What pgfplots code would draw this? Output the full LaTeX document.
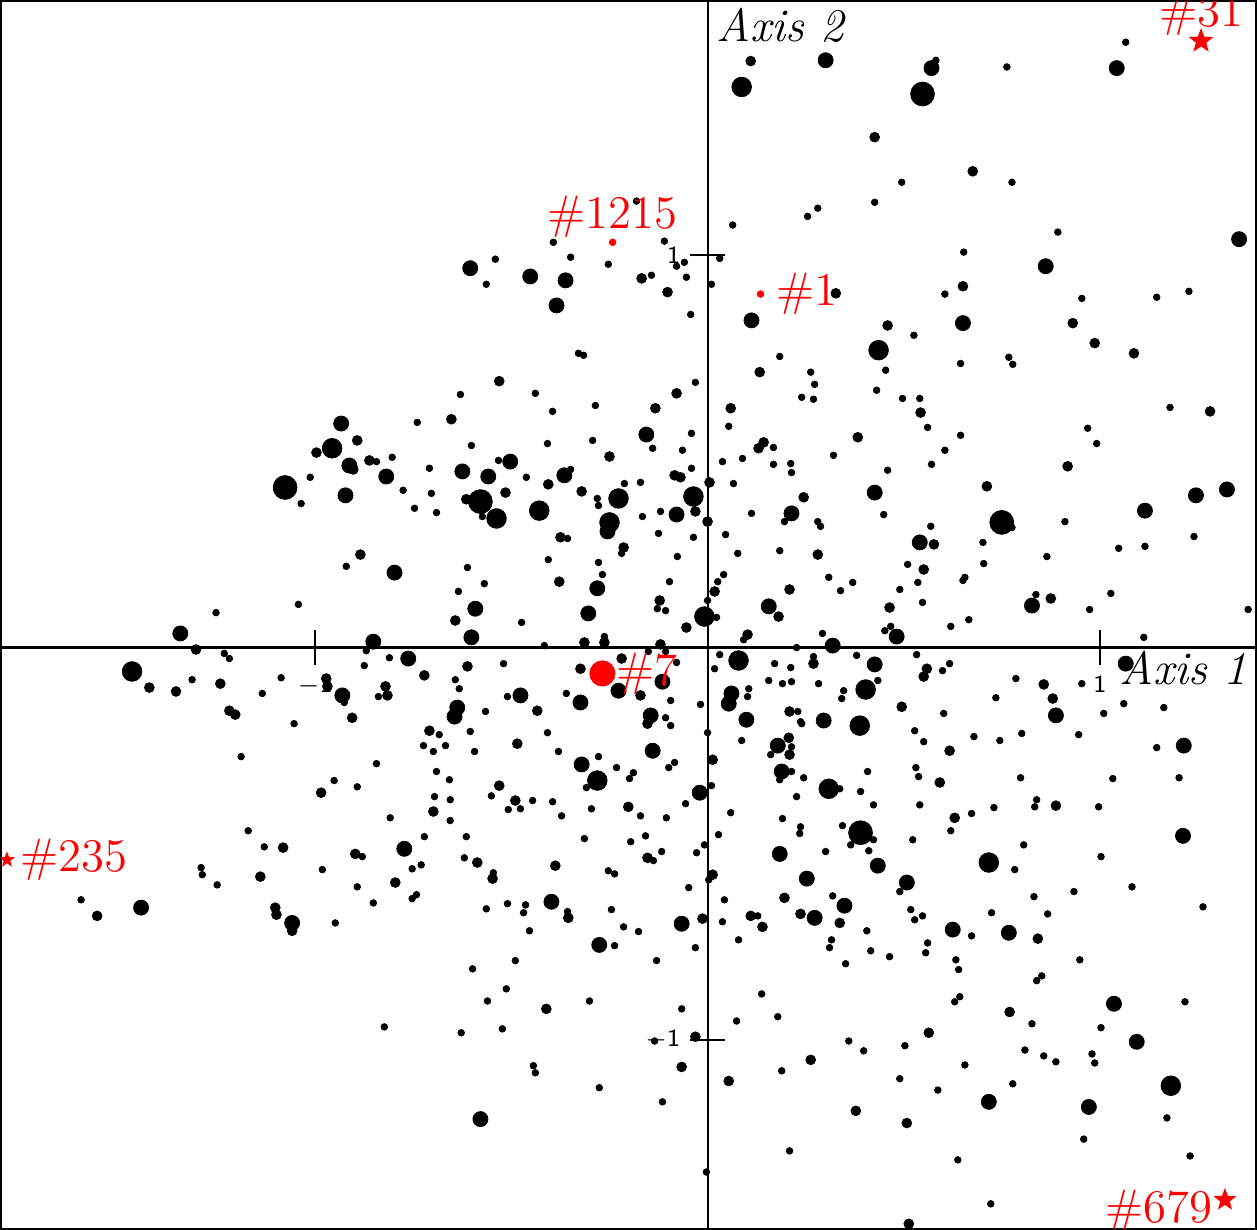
\documentclass[border=0pt]{standalone}
\usepackage{pgfplots}
\pgfplotsset{compat=1.18}
\pgfdeclareplotmark{fstar}{%
  \pgfpathmoveto{\pgfpointpolar{90}{\pgfplotmarksize}}%
  \pgfpathlineto{\pgfpointpolar{126}{0.42\pgfplotmarksize}}%
  \pgfpathlineto{\pgfpointpolar{162}{\pgfplotmarksize}}%
  \pgfpathlineto{\pgfpointpolar{198}{0.42\pgfplotmarksize}}%
  \pgfpathlineto{\pgfpointpolar{234}{\pgfplotmarksize}}%
  \pgfpathlineto{\pgfpointpolar{270}{0.42\pgfplotmarksize}}%
  \pgfpathlineto{\pgfpointpolar{306}{\pgfplotmarksize}}%
  \pgfpathlineto{\pgfpointpolar{342}{0.42\pgfplotmarksize}}%
  \pgfpathlineto{\pgfpointpolar{18}{\pgfplotmarksize}}%
  \pgfpathlineto{\pgfpointpolar{54}{0.42\pgfplotmarksize}}%
  \pgfpathclose
  \pgfusepathqfill
}
\newcommand{\lab}{\fontsize{13.3}{15}\selectfont}
\newcommand{\tck}{\sffamily\fontsize{7}{8}\selectfont}
\begin{document}
\begin{tikzpicture}
\begin{axis}[
  scale only axis, width=12.54cm, height=12.27cm,
  xmin=-1.801, xmax=1.398, ymin=-1.482, ymax=1.648,
  axis line style={line width=0.6pt},
  xtick=\empty, ytick=\empty,
  clip marker paths=true,
  dots/.style={only marks, mark=*, black, mark options={line width=0.2pt}},
]
\draw[line width=0.6pt] (axis cs:0,-1.482) -- (axis cs:0,1.648);
\draw[line width=0.6pt] (axis cs:-1.801,0) -- (axis cs:1.398,0);
\draw[line width=0.6pt] ([yshift=-5pt]axis cs:1,0) -- ([yshift=5pt]axis cs:1,0);
\draw[line width=0.6pt] ([yshift=-5pt]axis cs:-1,0) -- ([yshift=5pt]axis cs:-1,0);
\draw[line width=0.6pt] ([xshift=-5pt]axis cs:0,1) -- ([xshift=5pt]axis cs:0,1);
\draw[line width=0.6pt] ([xshift=-5pt]axis cs:0,-1) -- ([xshift=5pt]axis cs:0,-1);
\node[anchor=north, inner sep=0pt, yshift=-7.7pt, font=\tck] at (axis cs:1,0) {1};
\node[anchor=north, inner sep=0pt, yshift=-7.7pt, font=\tck] at (axis cs:-1,0) {$-$1};
\node[anchor=east, inner sep=0pt, xshift=-7.6pt, font=\tck] at (axis cs:0,1) {1};
\node[anchor=east, inner sep=0pt, xshift=-7.6pt, font=\tck] at (axis cs:0,-1) {$-$1};
\node[anchor=base west, inner sep=0pt, font=\lab\itshape] at (axis cs:0.020,1.546) {Axis 2};
\node[anchor=base east, inner sep=0pt, font=\lab\itshape] at (axis cs:1.378,-0.094) {Axis 1};

% small dots
\addplot[dots, mark size=0.95pt] table {
x y
-0.393 1.033
-0.541 0.990
-0.564 0.926
-0.349 0.995
-0.253 0.977
-0.329 0.750
-0.316 0.745
-0.630 0.645
-0.439 0.648
-0.286 0.617
-0.395 0.602
0.582 1.497
0.495 1.186
0.426 1.135
0.255 1.099
0.281 1.120
0.064 1.077
-0.181 1.138
-0.110 1.036
-0.079 0.972
-0.059 0.982
-0.054 0.944
-0.143 0.949
-0.043 0.849
0.031 0.992
0.010 0.926
0.526 0.796
0.605 0.901
0.184 0.742
0.263 0.702
0.273 0.671
0.240 0.638
0.270 0.633
0.454 0.707
0.431 0.656
0.497 0.635
0.541 0.635
-0.031 0.676
1.066 1.543
0.763 1.480
0.776 1.186
0.893 1.059
0.653 1.008
0.954 0.890
1.145 0.893
1.227 0.908
0.645 0.724
0.768 0.740
0.778 0.722
1.179 0.612
-1.013 0.434
-1.036 0.367
-1.043 0.110
-1.253 0.089
-1.232 -0.015
-1.219 -0.028
-1.314 -0.082
-1.087 -0.077
-1.135 -0.117
-1.054 -0.194
-1.189 -0.278
-0.740 0.574
-0.844 0.474
-0.804 0.485
-0.776 0.401
-0.709 0.457
-0.704 0.393
-0.747 0.355
-0.691 0.344
-0.602 0.515
-0.574 0.334
-0.533 0.477
-0.462 0.434
-0.408 0.520
-0.349 0.454
-0.293 0.528
-0.212 0.418
-0.281 0.380
-0.278 0.362
-0.219 0.240
-0.357 0.278
-0.406 0.224
-0.278 0.217
-0.268 0.186
-0.474 0.064
-0.921 0.207
-0.612 0.204
-0.569 0.163
-0.635 0.143
-0.870 -0.008
-0.875 -0.046
-0.811 -0.026
-0.520 -0.041
-0.416 0.005
-0.263 0.028
-0.926 -0.140
-0.839 -0.125
-0.643 -0.082
-0.633 -0.105
-0.510 -0.125
-0.360 -0.117
-0.566 -0.163
-0.684 -0.222
-0.724 -0.250
-0.699 -0.265
-0.668 -0.250
-0.605 -0.214
-0.594 -0.265
-0.408 -0.217
-0.380 -0.265
-0.278 -0.278
-0.232 -0.306
-0.309 -0.357
-0.844 -0.296
-0.952 -0.339
-0.893 -0.355
-0.691 -0.316
-0.658 -0.337
-0.696 -0.380
-0.656 -0.388
-0.551 -0.378
-0.508 -0.413
-0.477 -0.411
-0.446 -0.390
-0.395 -0.393
-0.372 -0.429
-0.296 -0.411
-0.809 -0.434
-0.656 -0.441
-0.199 -0.334
-0.189 -0.319
0.054 0.564
0.561 0.561
-0.041 0.546
-0.140 0.508
-0.064 0.503
0.168 0.510
0.089 0.482
0.038 0.474
0.168 0.467
0.212 0.469
0.214 0.446
0.321 0.490
0.459 0.452
0.571 0.467
0.605 0.503
-0.041 0.457
-0.171 0.421
0.066 0.418
-0.120 0.347
-0.166 0.334
0.112 0.342
0.196 0.321
0.449 0.339
0.281 0.321
0.288 0.309
-0.125 0.291
-0.036 0.281
0.046 0.288
0.077 0.240
-0.077 0.232
0.184 0.247
0.569 0.309
0.510 0.212
0.536 0.166
0.490 0.148
0.548 0.115
-0.097 0.168
0.041 0.186
0.026 0.168
0.309 0.179
0.339 0.145
0.370 0.166
-0.128 0.099
-0.107 0.094
0.000 0.120
0.023 0.077
0.092 0.020
0.293 0.036
0.452 0.043
0.467 0.054
0.227 0.000
-0.107 -0.010
-0.151 -0.010
-0.079 -0.038
0.031 -0.018
0.018 -0.054
0.171 -0.041
0.212 -0.051
0.270 -0.023
0.380 -0.020
0.533 -0.018
0.434 -0.084
0.599 -0.059
0.156 -0.084
0.191 -0.092
0.214 -0.087
0.283 -0.092
-0.094 -0.135
0.105 -0.105
0.102 -0.125
-0.018 -0.145
0.347 -0.110
0.342 -0.130
0.602 -0.168
-0.107 -0.179
-0.094 -0.199
0.230 -0.163
0.237 -0.189
0.240 -0.194
0.000 -0.217
0.087 -0.237
0.214 -0.253
0.161 -0.273
0.528 -0.212
0.551 -0.240
-0.084 -0.293
-0.099 -0.306
0.214 -0.316
0.184 -0.337
0.245 -0.332
0.408 -0.316
0.531 -0.306
0.538 -0.329
0.337 -0.360
0.010 -0.352
-0.056 -0.398
0.390 -0.367
0.227 -0.380
0.423 -0.401
0.541 -0.401
-0.171 -0.429
-0.105 -0.434
0.059 -0.421
0.191 -0.436
0.969 0.559
0.992 0.520
0.645 0.541
0.776 0.306
0.911 0.321
0.702 0.268
1.240 0.283
1.048 0.253
1.115 0.258
0.865 0.232
0.704 0.214
0.656 0.179
0.651 0.171
0.837 0.135
1.028 0.138
0.974 0.097
1.378 0.097
0.620 0.054
0.666 0.071
1.112 0.026
0.617 -0.041
0.786 -0.079
0.954 -0.092
0.735 -0.128
1.010 -0.168
1.061 -0.143
1.163 -0.153
0.679 -0.227
0.745 -0.237
0.801 -0.219
0.946 -0.222
1.145 -0.255
0.798 -0.332
1.033 -0.334
1.202 -0.332
0.839 -0.388
0.834 -0.406
0.730 -0.408
0.673 -0.423
0.997 -0.406
-1.171 -0.467
-1.130 -0.508
-1.291 -0.561
-1.288 -0.579
-1.250 -0.605
-1.597 -0.643
-0.722 -0.482
-0.615 -0.482
-0.880 -0.533
-0.982 -0.566
-0.753 -0.564
-0.730 -0.554
-0.620 -0.536
-0.546 -0.574
-0.893 -0.610
-0.852 -0.651
-0.753 -0.640
-0.742 -0.630
-0.949 -0.702
-0.314 -0.487
-0.196 -0.495
-0.253 -0.569
-0.237 -0.577
-0.564 -0.666
-0.510 -0.653
-0.464 -0.656
-0.469 -0.676
-0.357 -0.673
-0.454 -0.722
-0.245 -0.668
-0.214 -0.712
-0.237 -0.760
-0.490 -0.798
-0.599 -0.819
-0.513 -0.870
-0.561 -0.901
-0.301 -0.901
-0.824 -0.967
-0.628 -0.982
-0.523 -0.972
-0.444 -1.066
-0.439 -1.084
-0.276 -1.122
-0.158 -0.480
-0.138 -0.543
-0.117 -0.520
-0.028 -0.523
-0.008 -0.503
0.028 -0.477
0.003 -0.592
-0.048 -0.612
0.237 -0.457
0.235 -0.474
0.344 -0.454
0.423 -0.490
0.365 -0.503
0.523 -0.490
0.301 -0.520
0.411 -0.518
0.490 -0.622
0.043 -0.643
0.319 -0.633
0.518 -0.668
0.528 -0.694
0.548 -0.684
0.038 -0.699
0.128 -0.684
-0.176 -0.724
0.079 -0.745
-0.031 -0.765
-0.130 -0.798
0.406 -0.722
0.316 -0.745
0.311 -0.765
0.416 -0.773
0.352 -0.806
0.464 -0.788
0.561 -0.753
0.556 -0.778
0.138 -0.883
-0.066 -0.921
0.074 -0.952
0.179 -0.941
-0.135 -1.003
0.360 -1.003
0.398 -1.028
0.503 -1.015
0.189 -1.079
0.490 -1.099
0.587 -1.128
-0.115 -1.158
0.209 -1.283
-0.003 -1.337
0.620 -0.467
0.806 -0.503
1.003 -0.533
0.783 -0.566
1.082 -0.610
0.934 -0.622
0.832 -0.635
1.263 -0.661
0.724 -0.676
0.867 -0.679
0.673 -0.735
0.633 -0.796
0.640 -0.821
0.949 -0.796
0.852 -0.837
0.839 -0.849
0.643 -0.890
0.630 -0.903
1.217 -0.903
0.827 -0.959
1.003 -0.969
0.809 -1.026
0.857 -1.041
0.888 -1.056
0.980 -1.036
0.987 -1.059
0.656 -1.064
0.778 -1.112
1.171 -1.199
0.959 -1.253
0.638 -1.306
1.230 -1.296
0.722 -1.418
};

% medium dots
\addplot[dots, mark size=1.4pt] table {
x y
-0.531 0.679
0.110 1.495
0.426 1.301
-0.168 0.941
-0.102 0.906
0.327 0.903
0.459 0.821
0.133 0.702
0.059 0.610
-0.079 0.648
-0.133 0.610
0.676 1.214
0.651 0.921
0.931 0.827
0.987 0.776
1.087 0.750
1.281 0.602
-0.997 0.497
-1.304 -0.005
-1.423 -0.102
-1.355 -0.112
-1.242 -0.092
-1.219 -0.161
-1.204 -0.171
-0.653 0.582
-0.893 0.528
-0.862 0.477
-0.615 0.378
-0.515 0.395
-0.406 0.416
-0.321 0.398
-0.250 0.487
-0.214 0.255
-0.375 0.281
-0.378 0.168
-0.885 0.237
-0.643 0.069
-0.263 0.013
-0.314 0.013
-0.722 -0.071
-0.612 -0.048
-0.219 -0.028
-0.324 -0.054
-0.972 -0.079
-0.969 -0.099
-0.906 -0.179
-0.821 -0.099
-0.816 -0.122
-0.434 -0.161
-0.709 -0.212
-0.485 -0.245
-0.985 -0.370
-0.699 -0.418
-0.531 -0.352
-0.490 -0.390
-0.202 -0.406
0.543 0.599
0.383 0.536
0.143 0.523
0.130 0.508
-0.084 0.439
-0.069 0.434
0.005 0.421
-0.031 0.347
0.000 0.321
0.245 0.383
0.281 0.237
0.577 0.263
0.551 0.199
0.018 0.143
0.209 0.148
-0.122 0.120
0.181 0.079
0.464 0.102
-0.054 0.051
0.102 0.033
-0.120 0.008
0.270 -0.041
0.559 -0.054
0.551 -0.074
-0.171 -0.122
0.495 -0.151
-0.153 -0.194
0.209 -0.163
0.207 -0.230
0.209 -0.273
0.013 -0.286
0.592 -0.344
0.918 0.462
0.712 0.411
0.875 0.125
0.857 -0.094
0.880 -0.130
0.617 -0.263
0.888 -0.403
0.630 -0.434
-1.082 -0.510
-1.140 -0.584
-1.556 -0.684
-1.102 -0.663
-1.099 -0.681
-1.059 -0.722
-0.898 -0.526
-0.587 -0.548
-0.548 -0.589
-0.796 -0.599
-0.388 -0.556
-0.355 -0.689
-0.411 -0.921
-0.153 -0.536
0.013 -0.579
0.196 -0.638
0.237 -0.679
0.337 -0.702
-0.013 -0.691
0.110 -0.684
0.140 -0.712
-0.031 -0.992
0.564 -0.982
-0.066 -1.069
0.263 -1.051
0.054 -1.105
0.378 -1.181
0.508 -1.212
0.513 -1.469
0.842 -0.742
0.770 -0.929
-0.903 0.454
};

% large dots
\addplot[dots, mark size=2.15pt] table {
x y
-0.605 0.967
-0.452 0.946
-0.362 0.936
-0.385 0.872
0.301 1.497
0.571 1.477
0.112 0.834
1.043 1.477
1.355 1.041
0.862 0.972
0.651 0.827
-1.344 0.036
-0.934 0.571
-0.913 0.464
-0.819 0.436
-0.923 0.388
-0.625 0.449
-0.559 0.436
-0.503 0.474
-0.365 0.439
-0.255 0.296
-0.281 0.151
-0.304 0.087
-0.798 0.191
-0.592 0.099
-0.602 0.026
-0.852 0.015
-0.227 -0.110
-0.931 -0.122
-0.324 -0.140
-0.638 -0.153
-0.645 -0.176
-0.321 -0.298
-0.156 0.543
-0.079 0.339
0.214 0.342
0.426 0.395
0.541 0.268
0.156 0.105
0.482 0.028
0.319 0.005
0.426 -0.043
-0.115 -0.087
0.054 -0.143
-0.145 -0.173
0.099 -0.184
0.296 -0.186
0.179 -0.250
-0.140 -0.263
0.189 -0.316
-0.020 -0.370
1.324 0.403
1.245 0.388
1.115 0.349
0.827 0.107
1.066 -0.041
0.888 -0.173
1.214 -0.250
-1.444 -0.663
-1.059 -0.702
-0.773 -0.513
-0.398 -0.648
-0.276 -0.758
-0.579 -1.202
0.184 -0.526
0.434 -0.556
0.349 -0.658
0.273 -0.689
-0.066 -0.704
1.212 -0.480
0.625 -0.719
0.768 -0.727
1.036 -0.908
1.094 -1.005
0.717 -1.158
0.972 -1.171
-0.763 -0.028
-0.477 -0.122
0.061 -0.117
0.253 -0.589
0.508 -0.599
};

% very large dots
\addplot[dots, mark size=2.8pt] table {
x y
0.087 1.429
0.436 0.758
-1.467 -0.061
-0.957 0.508
-0.538 0.329
-0.429 0.349
-0.227 0.380
-0.250 0.319
-0.281 -0.339
-0.036 0.385
-0.008 0.079
0.079 -0.033
0.403 -0.107
0.388 -0.199
0.309 -0.360
0.717 -0.548
1.181 -1.117
};

% largest dots
\addplot[dots, mark size=3.4pt] table {
x y
0.548 1.411
0.390 -0.472
-0.579 0.372
0.750 0.319
-1.077 0.408
};

% highlighted individuals
\addplot[only marks, mark=*, red, mark size=0.95pt, mark options={line width=0.2pt}] table {
x y
-0.242 1.033
0.135 0.901
};
\addplot[only marks, mark=*, red, mark size=3.6pt, mark options={line width=0.2pt}] table {
x y
-0.268 -0.066
};
\addplot[only marks, mark=fstar, red, mark size=3.7pt] table {
x y
1.258 1.546
};
\addplot[only marks, mark=fstar, red, mark size=3.4pt] table {
x y
1.319 -1.408
};
\addplot[only marks, mark=fstar, red, mark size=2.4pt] table {
x y
-1.786 -0.541
};

\node[red, anchor=base, yshift=3.8pt, inner sep=0pt, font=\lab] at (axis cs:-0.242,1.033) {\#1215};
\node[red, anchor=west, xshift=4.3pt, inner sep=0pt, font=\lab] at (axis cs:0.135,0.901) {\#1};
\node[red, anchor=west, xshift=3.7pt, inner sep=0pt, font=\lab] at (axis cs:-0.268,-0.066) {\#7};
\node[red, anchor=south, yshift=1.4pt, inner sep=0pt, font=\lab] at (axis cs:1.258,1.546) {\#31};
\node[red, anchor=west, xshift=3.7pt, inner sep=0pt, font=\lab] at (axis cs:-1.786,-0.541) {\#235};
\node[red, anchor=east, xshift=-3.4pt, yshift=-3.1pt, inner sep=0pt, font=\lab] at (axis cs:1.319,-1.408) {\#679};
\end{axis}
\pgfresetboundingbox
\path[use as bounding box] ([shift={(-0.3pt,-0.3pt)}]current axis.south west) rectangle ([shift={(0.3pt,0.3pt)}]current axis.north east);
\end{tikzpicture}
\end{document}
